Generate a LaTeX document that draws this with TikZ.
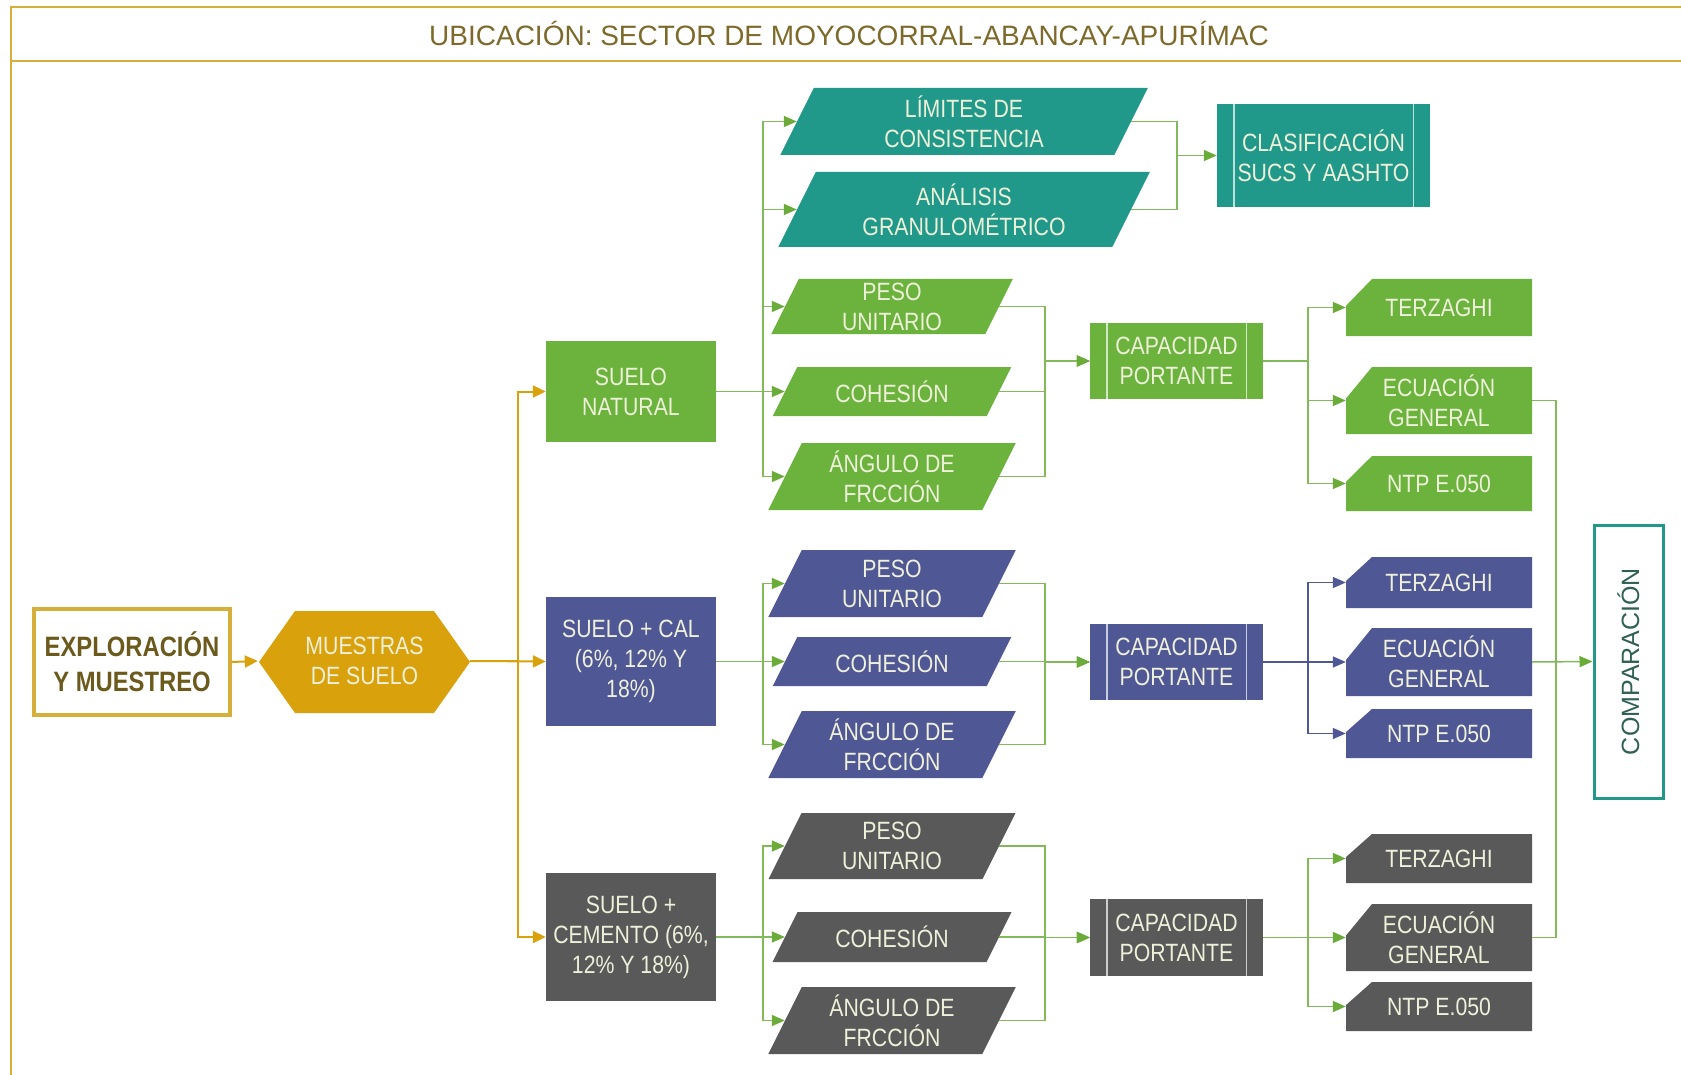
\documentclass[tikz,border=0pt]{standalone}
\usepackage{fontspec}
\setmainfont{Liberation Sans}
\newfontfamily\boxfont[FakeStretch=0.85]{Liberation Sans}
\usetikzlibrary{arrows.meta}

\definecolor{cgold}{HTML}{D9A20C}
\definecolor{cframe}{HTML}{D6AE3A}
\definecolor{ctitle}{HTML}{7D6A2B}
\definecolor{cexpl}{HTML}{6B5A1C}
\definecolor{cgreen}{HTML}{6CB33E}
\definecolor{cteal}{HTML}{21998A}
\definecolor{cblue}{HTML}{4F5795}
\definecolor{cgray}{HTML}{595959}
\definecolor{cline}{HTML}{82B95A}
\definecolor{chead}{HTML}{6AAB3A}
\definecolor{ccream}{HTML}{EEF0DA}
\definecolor{ccomp}{HTML}{2F5F55}

\tikzset{
  txt/.style={text=ccream, align=center, inner sep=0pt,
    font=\boxfont\fontsize{25}{30}\selectfont},
  conn/.style={draw=cline, line width=1.5pt},
  arr/.style={conn, -{Triangle[length=13pt,width=11pt,color=chead]}},
  bconn/.style={draw=cblue, line width=1.5pt},
  barr/.style={bconn, -{Triangle[length=13pt,width=11pt]}},
  garr/.style={draw=cgold, line width=2pt, -{Triangle[length=13pt,width=12pt]}},
  gconn/.style={draw=cgold, line width=2pt},
}

% parallelogram: name, cx, cy, mid width, height, colour, text
\newcommand{\parabox}[7]{%
  \fill[#6] ({#2-#4/2+#5/4},{#3-#5/2}) -- ({#2+#4/2+#5/4},{#3-#5/2})
    -- ({#2+#4/2-#5/4},{#3+#5/2}) -- ({#2-#4/2-#5/4},{#3+#5/2}) -- cycle;
  \node[txt, minimum width=#4pt, minimum height=#5pt] (#1) at (#2,#3) {#7};
}
% rectangle with the upper left corner cut off
\newcommand{\snipbox}[7]{%
  \fill[#6] ({#2-#4/2+26},{#3-#5/2}) -- ({#2+#4/2},{#3-#5/2})
    -- ({#2+#4/2},{#3+#5/2}) -- ({#2-#4/2},{#3+#5/2})
    -- ({#2-#4/2},{#3-#5/2+0.47*#5}) -- cycle;
  \node[txt, minimum width=#4pt, minimum height=#5pt] (#1) at (#2,#3) {#7};
}
% predefined-process box: name, cx, cy, w, h, colour, text
\newcommand{\procbox}[7]{%
  \node[txt, fill=#6, minimum width=#4pt, minimum height=#5pt] (#1) at (#2,#3) {#7};
  \draw[line width=1.4pt, #6!30!white] ([xshift=17pt]#1.north west) -- ([xshift=17pt]#1.south west);
  \draw[line width=1.4pt, #6!30!white] ([xshift=-17pt]#1.north east) -- ([xshift=-17pt]#1.south east);
}

\begin{document}
\begin{tikzpicture}[x=1pt,y=-1pt]
\useasboundingbox (0,0) rectangle (1681,1075);
\fill[white] (0,0) rectangle (1681,1075);

% frame and heading
\draw[cframe, line width=2pt] (1690,7) -- (11,7) -- (11,1085);
\draw[cframe, line width=2pt] (11,61) -- (1690,61);
\node[text=ctitle, font=\fontsize{28}{32}\selectfont] (title) at (849,33)
  {UBICACIÓN: SECTOR DE MOYOCORRAL-ABANCAY-APURÍMAC};

% start
\node[draw=cframe, line width=3.5pt, minimum width=196pt, minimum height=106pt,
  align=center, inner sep=0pt, text=cexpl,
  font=\boxfont\bfseries\fontsize{28}{35}\selectfont] (expl) at (132,662)
  {EXPLORACIÓN\\Y MUESTREO};

\fill[cgold] (259,662) -- (295,611) -- (434,611) -- (470,662) -- (434,713) -- (295,713) -- cycle;
\node[txt, minimum width=211pt, minimum height=102pt] (hex) at (364.5,661) {MUESTRAS\\DE SUELO};

% soil types
\node[txt, fill=cgreen, minimum width=170pt, minimum height=101pt] (sn) at (631,391.5) {SUELO\\NATURAL};
\node[txt, fill=cblue, minimum width=170pt, minimum height=129pt] (sc) at (631,661.5) {SUELO + CAL\\(6\%, 12\% Y\\18\%)};
\node[txt, fill=cgray, minimum width=170pt, minimum height=128pt] (se) at (631,937) {SUELO +\\CEMENTO (6\%,\\12\% Y 18\%)};

\coordinate (gbus) at (518,0);
\draw[garr] (expl.east) -- ([xshift=-1pt]hex.west);
\draw[garr] (hex.east) -- (hex.east -| gbus) |- (sn.west);
\draw[garr] (hex.east) -- (sc.west);
\draw[garr] (hex.east) -- (hex.east -| gbus) |- (se.west);

% ---------------- natural soil
\parabox{lim}{964}{121.5}{334}{67}{cteal}{LÍMITES DE\\CONSISTENCIA}
\parabox{gra}{964}{209.5}{334}{75}{cteal}{ANÁLISIS\\GRANULOMÉTRICO}
\parabox{pe1}{892}{306.5}{214}{55}{cgreen}{PESO\\UNITARIO}
\parabox{co1}{892}{391.5}{214}{49}{cgreen}{COHESIÓN}
\parabox{an1}{892}{476.5}{214}{67}{cgreen}{ÁNGULO DE\\FRCCIÓN}

\procbox{cla}{1323.5}{155.5}{213}{103}{cteal}{CLASIFICACIÓN\\SUCS Y AASHTO}
\procbox{cp1}{1176.5}{361}{173}{76}{cgreen}{CAPACIDAD\\PORTANTE}

\snipbox{te1}{1439}{307.5}{186}{57}{cgreen}{TERZAGHI}
\snipbox{ec1}{1439}{400.5}{186}{67}{cgreen}{ECUACIÓN\\GENERAL}
\snipbox{nt1}{1439}{483.5}{186}{55}{cgreen}{NTP E.050}

\coordinate (lb) at (763,0);
\coordinate (mb) at (1045,0);
\coordinate (rb) at (1308,0);
\coordinate (tb) at (1177,0);

\foreach \t in {lim,gra,pe1,co1,an1}
  \draw[arr] (sn.east) -- (sn.east -| lb) |- (\t.west);
\draw[conn] (lim.east) -| (tb |- cla.west);
\draw[arr] (gra.east) -| (tb |- cla.west) -- (cla.west);
\foreach \t in {pe1,co1,an1}
  \draw[arr] (\t.east) -| (mb |- cp1.west) -- (cp1.west);
\foreach \t in {te1,ec1,nt1}
  \draw[arr] (cp1.east) -- (cp1.east -| rb) |- (\t.west);

% ---------------- soil with lime
\parabox{pe2}{892}{583.5}{214}{67}{cblue}{PESO\\UNITARIO}
\parabox{co2}{892}{661.5}{214}{49}{cblue}{COHESIÓN}
\parabox{an2}{892}{744.5}{214}{67}{cblue}{ÁNGULO DE\\FRCCIÓN}
\procbox{cp2}{1176.5}{662}{173}{76}{cblue}{CAPACIDAD\\PORTANTE}
\snipbox{te2}{1439}{582.5}{186}{51}{cblue}{TERZAGHI}
\snipbox{ec2}{1439}{662}{186}{68}{cblue}{ECUACIÓN\\GENERAL}
\snipbox{nt2}{1439}{733.5}{186}{49}{cblue}{NTP E.050}

\foreach \t in {pe2,co2,an2}
  \draw[arr] (sc.east) -- (sc.east -| lb) |- (\t.west);
\foreach \t in {pe2,co2,an2}
  \draw[arr] (\t.east) -| (mb |- cp2.west) -- (cp2.west);
\foreach \t in {te2,ec2,nt2}
  \draw[barr] (cp2.east) -- (cp2.east -| rb) |- (\t.west);

% ---------------- soil with cement
\parabox{pe3}{892}{846}{214}{66}{cgray}{PESO\\UNITARIO}
\parabox{co3}{892}{937}{214}{50}{cgray}{COHESIÓN}
\parabox{an3}{892}{1020.5}{214}{67}{cgray}{ÁNGULO DE\\FRCCIÓN}
\procbox{cp3}{1176.5}{937.5}{173}{77}{cgray}{CAPACIDAD\\PORTANTE}
\snipbox{te3}{1439}{858.5}{186}{49}{cgray}{TERZAGHI}
\snipbox{ec3}{1439}{937.5}{186}{67}{cgray}{ECUACIÓN\\GENERAL}
\snipbox{nt3}{1439}{1006.5}{186}{49}{cgray}{NTP E.050}

\foreach \t in {pe3,co3,an3}
  \draw[arr] (se.east) -- (se.east -| lb) |- (\t.west);
\foreach \t in {pe3,co3,an3}
  \draw[arr] (\t.east) -| (mb |- cp3.west) -- (cp3.west);
\foreach \t in {te3,ec3,nt3}
  \draw[arr] (cp3.east) -- (cp3.east -| rb) |- (\t.west);

% ---------------- comparison
\node[draw=cteal, line width=3pt, fill=white, minimum width=69pt, minimum height=273pt,
  inner sep=0pt] (comp) at (1628.5,661.5) {};
\node[rotate=90, text=ccomp, font=\fontsize{25}{30}\selectfont] (compt) at (comp.center) {COMPARACIÓN};
\coordinate (cb) at (1556,0);
\draw[conn] (ec1.east) -- (ec1.east -| cb) -- (ec3.east -| cb) -- (ec3.east);
\draw[arr] (ec2.east) -- (comp.west);
\end{tikzpicture}
\end{document}
